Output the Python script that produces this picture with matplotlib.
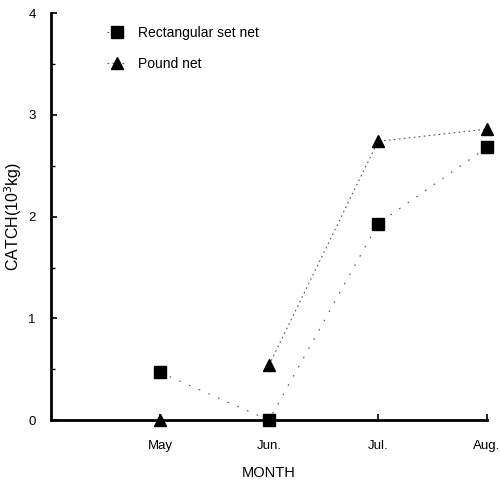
import matplotlib.pyplot as plt
from matplotlib.ticker import MultipleLocator

plt.rcParams['font.family'] = ['Liberation Sans', 'DejaVu Sans']

# data
months = ['May', 'Jun.', 'Jul.', 'Aug.']
rect_set_net = [0.47, 0.0, 1.93, 2.68]
pound_net = [0.0, 0.54, 2.74, 2.86]

x = list(range(1, len(months) + 1))

fig = plt.figure(figsize=(5.0, 4.83), dpi=100)
ax = fig.add_axes([0.102, 0.130, 0.872, 0.843])

ax.plot(x, rect_set_net, color='#555555', lw=0.8, ls=(0, (1.5, 8)),
        marker='s', ms=8.5, mfc='black', mec='black', label='Rectangular set net',
        clip_on=False, zorder=3)
# the pound net line is only drawn from June on
ax.plot(x[1:], pound_net[1:], color='#555555', lw=0.8, ls=(0, (1.5, 3)),
        marker='^', ms=8.5, mfc='black', mec='black', label='Pound net',
        clip_on=False, zorder=3)
ax.plot(x[:1], pound_net[:1], ls='none', marker='^', ms=8.5, mfc='black',
        mec='black', clip_on=False, zorder=3)

ax.set_xlim(0, 4)
ax.set_ylim(0, 4)
ax.set_xticks(x)
ax.set_xticklabels(months)
ax.yaxis.set_major_locator(MultipleLocator(1))
ax.yaxis.set_minor_locator(MultipleLocator(0.5))

for s in ['top', 'right']:
    ax.spines[s].set_visible(False)
for s in ['left', 'bottom']:
    ax.spines[s].set_linewidth(2.0)

ax.tick_params(axis='both', which='major', direction='in', length=4, width=1.2,
               labelsize=9.5)
ax.tick_params(axis='x', which='major', pad=14)
ax.tick_params(axis='y', which='major', pad=11)
ax.tick_params(axis='y', which='minor', direction='in', length=3, width=1.0)

ax.set_xlabel('MONTH', fontsize=10.5, labelpad=10)
ax.set_ylabel('CATCH(10$^3$kg)', fontsize=11.5)
ax.yaxis.set_label_coords(-0.062, 0.5)

ax.legend(loc='upper left', bbox_to_anchor=(0.1, 0.998), frameon=False,
          fontsize=10, handlelength=1.4, handletextpad=0.8, labelspacing=1.2,
          numpoints=1)

fig.savefig('out.png', dpi=100)
